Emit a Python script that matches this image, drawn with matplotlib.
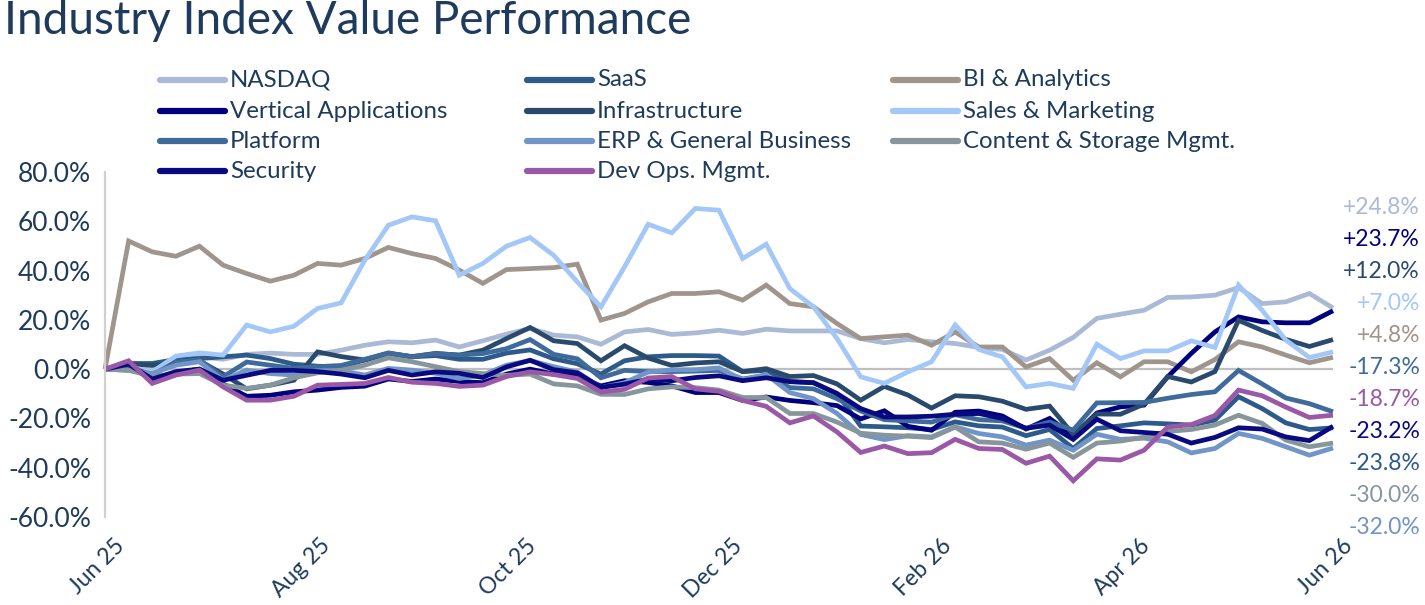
import matplotlib
matplotlib.use("Agg")
import matplotlib.pyplot as plt
from matplotlib.lines import Line2D
import matplotlib.transforms as mtransforms
import pandas as pd
import numpy as np

plt.rcParams['font.family'] = ['Lato', 'DejaVu Sans']

# ---------------- data ----------------
start_date = '2025-06-27'
n_weeks = 53
tick_labels = ['Jun 25', 'Aug 25', 'Oct 25', 'Dec 25', 'Feb 26', 'Apr 26', 'Jun 26']

series_names = ['NASDAQ', 'SaaS', 'BI & Analytics', 'Vertical Applications', 'Infrastructure',
                'Sales & Marketing', 'Platform', 'ERP & General Business',
                'Content & Storage Mgmt.', 'Security', 'Dev Ops. Mgmt.']

nasdaq = [0, -0.5, -2, 3, 5, 4, 6, 6.5, 6, 6, 7.7, 9.7, 11.1, 10.7, 11.8, 9.0, 11.5, 14.2, 16.5, 13.8,
          13.1, 10.1, 15.1, 16.1, 14.1, 14.7, 15.8, 14.5, 16.2, 15.5, 15.5, 15.5, 12.4, 10.7, 12.0, 11.1,
          10.4, 8.8, 8.0, 3.7, 7.7, 12.9, 20.6, 22.3, 23.9, 29.1, 29.3, 30.0, 33.1, 26.6, 27.3, 30.7, 24.8]
saas = [0, 2.3, 2.3, 3.9, 4.3, 5.0, 5.7, 4.3, 2.0, 1.2, 0.9, 3.7, 6.4, 5.0, 5.5, 4.0, 4.0, 6.5, 7.8, 4.2,
        2.2, -2.0, 3.4, 5.0, 5.5, 5.5, 5.3, -1.0, -0.5, -5.0, -5.5, -10.0, -23.1, -23.4, -23.8, -24.5,
        -21.4, -23.0, -23.5, -27.0, -24.5, -32.2, -24.1, -23.0, -21.8, -22.2, -22.7, -20.7, -11.2, -16.0,
        -21.8, -24.5, -23.8]
bi_analytics = [0, 52.0, 47.6, 45.8, 49.9, 42.2, 38.8, 35.7, 38.1, 42.9, 42.2, 44.9, 49.4, 46.9, 44.9,
                40.2, 34.8, 40.4, 40.8, 41.2, 42.6, 19.9, 22.6, 27.3, 30.7, 30.7, 31.4, 28.0, 34.1, 26.6,
                25.3, 18.5, 12.4, 13.1, 13.8, 9.7, 15.1, 9.0, 9.0, 0.9, 4.3, -4.5, 2.6, -3.1, 3.0, 3.0,
                -1.1, 3.9, 11.1, 9.0, 5.7, 2.6, 4.8]
vertical_apps = [0, 2.0, -4.5, -1.5, 0.0, -6.0, -11.0, -10.6, -9.2, -8.5, -7.4, -6.9, -4.0, -5.0, -4.0,
                 -5.0, -5.5, -2.0, 0.0, -2.0, -3.0, -6.8, -4.7, -5.4, -6.8, -9.5, -9.5, -12.7, -11.3,
                 -12.7, -13.6, -14.8, -20.2, -16.9, -23.2, -24.8, -17.5, -17.0, -19.0, -24.3, -20.0,
                 -27.0, -17.8, -15.3, -14.6, -3.1, 6.4, 15.1, 21.2, 19.2, 18.8, 18.8, 23.7]
infrastructure = [0, 2.0, 1.5, 2.5, 3.4, -2.0, -8.0, -6.5, -4.5, 7.0, 5.1, 3.7, 6.4, 5.1, 6.4, 5.7, 7.7,
                  12.4, 16.9, 11.5, 10.4, 3.4, 9.5, 4.5, 1.5, 2.5, 3.0, -1.0, 0.2, -3.0, -2.6, -6.0,
                  -12.6, -7.0, -10.5, -15.8, -10.8, -11.2, -13.0, -16.3, -15.0, -26.5, -18.2, -18.3,
                  -14.2, -3.0, -5.2, -1.0, 19.8, 15.7, 12.1, 9.2, 12.0]
sales_marketing = [0, 1.0, -1.1, 5.3, 6.6, 5.7, 17.9, 15.1, 17.4, 24.6, 26.9, 44.2, 58.4, 61.8, 60.2,
                   38.1, 42.9, 49.9, 53.4, 46.2, 35.4, 25.3, 41.5, 58.8, 55.3, 65.2, 64.5, 44.9, 50.7,
                   32.7, 25.3, 12.4, -3.1, -5.8, -1.1, 3.0, 17.9, 8.0, 5.0, -7.2, -5.8, -7.8, 10.1, 4.3,
                   7.4, 7.4, 11.5, 8.8, 34.1, 23.9, 11.8, 4.7, 7.0]
platform = [0, 1.0, -2.4, 2.9, 3.7, -3.1, 2.9, 1.6, 0.3, 1.0, 1.5, 4.0, 6.6, 5.0, 6.3, 5.7, 6.3, 8.3,
            12.0, 6.0, 4.2, -3.5, -0.5, -1.0, -1.0, -0.8, -0.5, -4.0, -2.5, -7.5, -8.0, -12.0, -17.0,
            -20.5, -21.0, -21.5, -18.5, -20.5, -21.0, -24.0, -21.5, -24.7, -13.7, -13.6, -13.5, -11.8,
            -10.3, -9.2, -0.5, -6.0, -11.7, -14.0, -17.3]
erp_general = [0, -0.5, -1.8, 1.6, 3.0, -4.5, -0.4, -1.8, -2.4, -0.6, -0.6, -2.4, 0.3, -0.4, -1.7, -3.8,
               -2.4, 1.6, 3.5, 1.0, -1.2, -7.5, -5.5, -1.2, -0.3, -0.2, 0.5, -4.3, -2.2, -9.5, -12.0,
               -18.0, -26.5, -28.6, -27.0, -27.5, -23.4, -26.1, -27.5, -30.8, -28.8, -32.9, -26.4, -28.5,
               -28.0, -29.5, -34.0, -32.2, -26.1, -28.1, -31.5, -34.9, -32.0]
content_storage = [0, -0.4, -3.0, -2.0, -1.8, -6.5, -7.8, -6.5, -3.5, -1.5, -0.4, 1.6, 4.6, 3.0, 1.0,
                   -1.0, -1.8, -2.5, -2.0, -6.0, -6.8, -10.2, -10.3, -8.0, -7.2, -7.5, -8.5, -11.5, -11.5,
                   -18.0, -18.0, -21.5, -26.0, -26.8, -27.2, -27.8, -23.5, -29.5, -30.0, -32.5, -30.0,
                   -35.8, -30.0, -29.2, -27.6, -25.3, -24.5, -22.7, -18.7, -22.0, -28.8, -31.5, -30.0]
security = [0, 2.0, -4.0, -1.0, 0.0, -4.5, -2.5, -0.5, -0.5, -1.0, -2.0, -3.5, -0.5, -2.4, -1.1, -1.7,
            -3.4, 0.9, 3.6, -0.2, -1.5, -7.4, -6.1, -4.1, -4.7, -3.4, -2.7, -4.7, -3.5, -5.1, -5.5, -9.9,
            -16.0, -19.4, -19.4, -19.1, -18.3, -18.0, -20.0, -24.0, -22.7, -28.5, -20.3, -25.0, -25.7,
            -26.4, -30.0, -27.7, -23.8, -24.3, -27.5, -29.0, -23.2]
dev_ops = [0, 3.4, -5.8, -2.4, -0.4, -7.2, -12.6, -12.6, -11.0, -6.5, -6.2, -5.8, -3.4, -5.3, -5.8, -7.0,
           -6.5, -3.0, -1.1, -2.2, -3.8, -9.3, -8.2, -3.6, -3.0, -8.0, -9.0, -12.7, -15.1, -21.8, -19.0,
           -25.5, -33.8, -31.2, -34.3, -33.9, -28.5, -32.2, -32.6, -38.2, -35.3, -45.3, -36.4, -36.9,
           -32.9, -23.5, -22.5, -18.8, -8.5, -10.8, -15.4, -19.6, -18.7]

series_values = [nasdaq, saas, bi_analytics, vertical_apps, infrastructure, sales_marketing,
                 platform, erp_general, content_storage, security, dev_ops]
series_colors = ['#AAB9D6', '#2D5A8B', '#A0958D', '#00007F', '#294A6D', '#A3C7F7',
                 '#3E6B9C', '#7195C6', '#87969D', '#0A0A80', '#9B58A6']

# ---------------- figure ----------------
W, H = 1425, 605
fig = plt.figure(figsize=(W / 100, H / 100), dpi=100)
ax = fig.add_axes([105 / W, 1 - 517 / H, (1333 - 105) / W, (517 - 172) / H])

dates = pd.date_range(start_date, periods=n_weeks, freq='7D')
lines = []
for vals, col in zip(series_values, series_colors):
    ln, = ax.plot(dates, np.array(vals) / 100.0, color=col, lw=3.4, solid_joinstyle='miter',
                  solid_capstyle='butt', clip_on=False)
    lines.append(ln)

ax.set_xlim(dates[0], dates[-1])
ax.set_ylim(-0.6, 0.8)
ax.axhline(0, color='#BFBFBF', lw=1.6, zorder=0)

for s in ['top', 'right', 'bottom']:
    ax.spines[s].set_visible(False)
ax.spines['left'].set_color('#D0D0D0')
ax.spines['left'].set_linewidth(1.6)

text_col = '#1F3B5C'
ax.set_yticks(np.arange(-0.6, 0.81, 0.2))
ax.set_yticklabels([f'{v:.1f}%' for v in np.arange(-60, 81, 20)])
ax.tick_params(axis='y', length=0, pad=10, labelsize=19, labelcolor=text_col)

ticks = [dates[0] + pd.DateOffset(months=2 * k) for k in range(6)] + [dates[-1]]
ax.set_xticks(ticks)
ax.set_xticklabels(tick_labels, rotation=45, ha='right', va='top', rotation_mode='anchor')
ax.tick_params(axis='x', length=0, pad=13, labelsize=16.5, labelcolor=text_col)
shift = mtransforms.ScaledTranslation(9 / 100, 0, fig.dpi_scale_trans)
for lab in ax.get_xticklabels():
    lab.set_transform(lab.get_transform() + shift)

# title
fig.text(4 / W, 1 - 21 / H, 'Industry Index Value Performance', fontsize=33, color=text_col,
         va='center', ha='left')

# legend (3 columns, row-major)
col_x = [160, 527, 893]
row_y = [80, 111, 141, 171]
for k, (name, col) in enumerate(zip(series_names, series_colors)):
    r, c = divmod(k, 3)
    x0 = col_x[c]
    y0 = row_y[r]
    fig.add_artist(Line2D([x0 / W, (x0 + 65) / W], [1 - y0 / H, 1 - y0 / H], color=col, lw=4.5,
                          solid_capstyle='round', transform=fig.transFigure))
    fig.text((x0 + 70) / W, 1 - y0 / H, name, fontsize=17.3, color=text_col, va='center', ha='left')

# end-value labels on the right, sorted by value
order = sorted(range(len(series_values)), key=lambda i: -series_values[i][-1])
for rank, i in enumerate(order):
    v = series_values[i][-1]
    y = 207 + rank * 32.0
    fig.text(1420 / W, 1 - y / H, f'{v:+.1f}%', fontsize=16.5, color=series_colors[i],
             va='center', ha='right')

fig.savefig('out.png', dpi=100)
